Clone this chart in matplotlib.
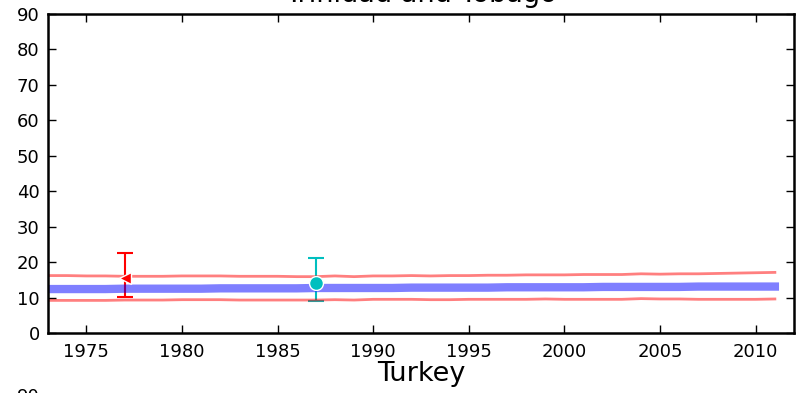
import matplotlib.pyplot as plt

years = list(range(1973, 2012))
upper = [16.2, 16.2, 16.1, 16.1, 16.0, 16.0, 16.0, 16.1, 16.1, 16.1,
         16.0, 16.0, 16.0, 15.9, 15.9, 16.1, 15.9, 16.1, 16.1, 16.2,
         16.1, 16.2, 16.2, 16.3, 16.3, 16.4, 16.4, 16.4, 16.5, 16.5,
         16.5, 16.7, 16.6, 16.7, 16.7, 16.8, 16.9, 17.0, 17.1]
lower = [9.2, 9.2, 9.2, 9.2, 9.3, 9.3, 9.3, 9.4, 9.4, 9.4,
         9.3, 9.3, 9.3, 9.3, 9.3, 9.4, 9.3, 9.5, 9.5, 9.5,
         9.4, 9.4, 9.5, 9.5, 9.5, 9.5, 9.6, 9.5, 9.5, 9.5,
         9.5, 9.7, 9.6, 9.6, 9.5, 9.5, 9.5, 9.5, 9.6]
trend = [12.4, 12.4, 12.4, 12.4, 12.5, 12.5, 12.5, 12.5, 12.5, 12.6,
         12.6, 12.6, 12.6, 12.6, 12.7, 12.7, 12.7, 12.7, 12.7, 12.8,
         12.8, 12.8, 12.8, 12.8, 12.9, 12.9, 12.9, 12.9, 12.9, 13.0,
         13.0, 13.0, 13.0, 13.0, 13.1, 13.1, 13.1, 13.1, 13.1]

# survey points: year, value, low, high
tri_year, tri_val, tri_lo, tri_hi = 1977, 15.5, 10.2, 22.6
dot_year, dot_val, dot_lo, dot_hi = 1987, 14.1, 9.0, 21.2

W, H = 799, 393
fig = plt.figure(figsize=(W / 100, H / 100), dpi=100)


def style_axes(ax):
    ax.set_xlim(1973, 2012)
    ax.set_ylim(0, 90)
    ax.set_xticks(range(1975, 2011, 5))
    ax.set_yticks(range(0, 91, 10))
    ax.tick_params(direction='in', length=6, width=1, top=True, right=True,
                   labelsize=13)
    ax.tick_params(axis='y', pad=6)
    ax.tick_params(axis='x', pad=7)
    for sp in ax.spines.values():
        sp.set_linewidth(1.8)


ax = fig.add_axes([48 / W, (H - 333) / H, (794 - 48) / W, (333 - 14) / H])
style_axes(ax)
ax.set_title('Trinidad and Tobago', fontsize=19.5, pad=8.5)

ax.errorbar([tri_year], [tri_val], yerr=[[tri_val - tri_lo], [tri_hi - tri_val]],
            fmt='none', ecolor='red', elinewidth=1.5, capsize=6, capthick=1.5, zorder=1)
ax.errorbar([dot_year], [dot_val], yerr=[[dot_val - dot_lo], [dot_hi - dot_val]],
            fmt='none', ecolor='c', elinewidth=1.5, capsize=6, capthick=1.5, zorder=1)

ax.plot(years, upper, color='red', alpha=0.5, lw=2, zorder=2)
ax.plot(years, lower, color='red', alpha=0.5, lw=2, zorder=2)
ax.plot(years, trend, color='blue', alpha=0.5, lw=6, zorder=2)

ax.plot([tri_year], [tri_val], marker='<', color='red', markersize=9,
        markeredgecolor='white', markeredgewidth=1, zorder=3)
ax.plot([dot_year], [dot_val], marker='o', color='c', markersize=10,
        markeredgecolor='white', markeredgewidth=1, zorder=3)

# next panel, mostly below the canvas: only its title and top label show
ax2 = fig.add_axes([48 / W, (H - 395 - 319) / H, (794 - 48) / W, 319 / H])
style_axes(ax2)
ax2.set_xticklabels([])
ax2.set_yticklabels([''] * 9 + ['90'])
ax2.set_title('Turkey', fontsize=19.5, pad=10)

fig.savefig('out.png', dpi=100)
